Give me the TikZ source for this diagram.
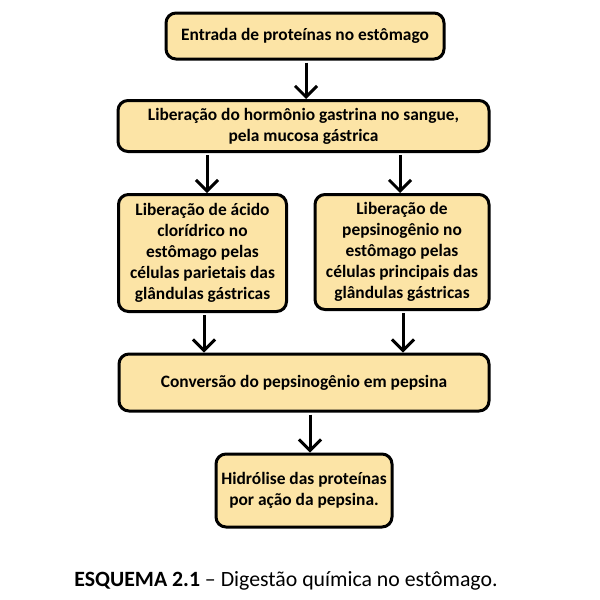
\documentclass[tikz,border=0pt]{standalone}
\usepackage{fontspec}
\setmainfont{Carlito}
\usetikzlibrary{arrows.meta}
\definecolor{boxfill}{RGB}{252,228,166}
\tikzset{
  box/.style={draw=black, line width=3pt, fill=boxfill, rounded corners=10pt,
    align=center, font=\fontsize{17.4}{21}\selectfont\bfseries, inner sep=0pt},
  arr/.style={line width=3pt, -{Straight Barb[length=11pt,width=22pt]}, shorten <=2pt}
}
\begin{document}
\begin{tikzpicture}[x=1pt,y=-1pt]
\useasboundingbox (0,0) rectangle (600,600);
\node[box, minimum width=278, minimum height=46] (b1) at (305,36) {Entrada de proteínas no estômago};
\node[box, minimum width=371, minimum height=51] (b2) at (303.5,126) {Liberação do hormônio gastrina no sangue,\\pela mucosa gástrica};
\node[box, minimum width=168, minimum height=117] (b3) at (202.5,253) {Liberação de ácido\\clorídrico no\\estômago pelas\\células parietais das\\glândulas gástricas};
\node[box, minimum width=174, minimum height=115] (b4) at (402,252) {Liberação de\\pepsinogênio no\\estômago pelas\\células principais das\\glândulas gástricas};
\node[box, minimum width=370, minimum height=57] (b5) at (304,382.5) {Conversão do pepsinogênio em pepsina};
\node[box, minimum width=176, minimum height=73] (b6) at (304,490.5) {Hidrólise das proteínas\\por ação da pepsina.};
\node[font=\fontsize{21.8}{26}\selectfont, anchor=base] (cap) at (286,586) {\textbf{ESQUEMA 2.1} – Digestão química no estômago.};
\coordinate (x1) at (306,0);
\coordinate (x2) at (207,0);
\coordinate (x3) at (400,0);
\coordinate (x4) at (204,0);
\coordinate (x5) at (403,0);
\coordinate (x6) at (310,0);
\draw[arr] (b1.south -| x1) -- (b2.north -| x1);
\draw[arr] (b2.south -| x2) -- (b3.north -| x2);
\draw[arr] (b2.south -| x3) -- (b4.north -| x3);
\draw[arr] (b3.south -| x4) -- (b5.north -| x4);
\draw[arr] (b4.south -| x5) -- (b5.north -| x5);
\draw[arr] (b5.south -| x6) -- (b6.north -| x6);
\end{tikzpicture}
\end{document}
